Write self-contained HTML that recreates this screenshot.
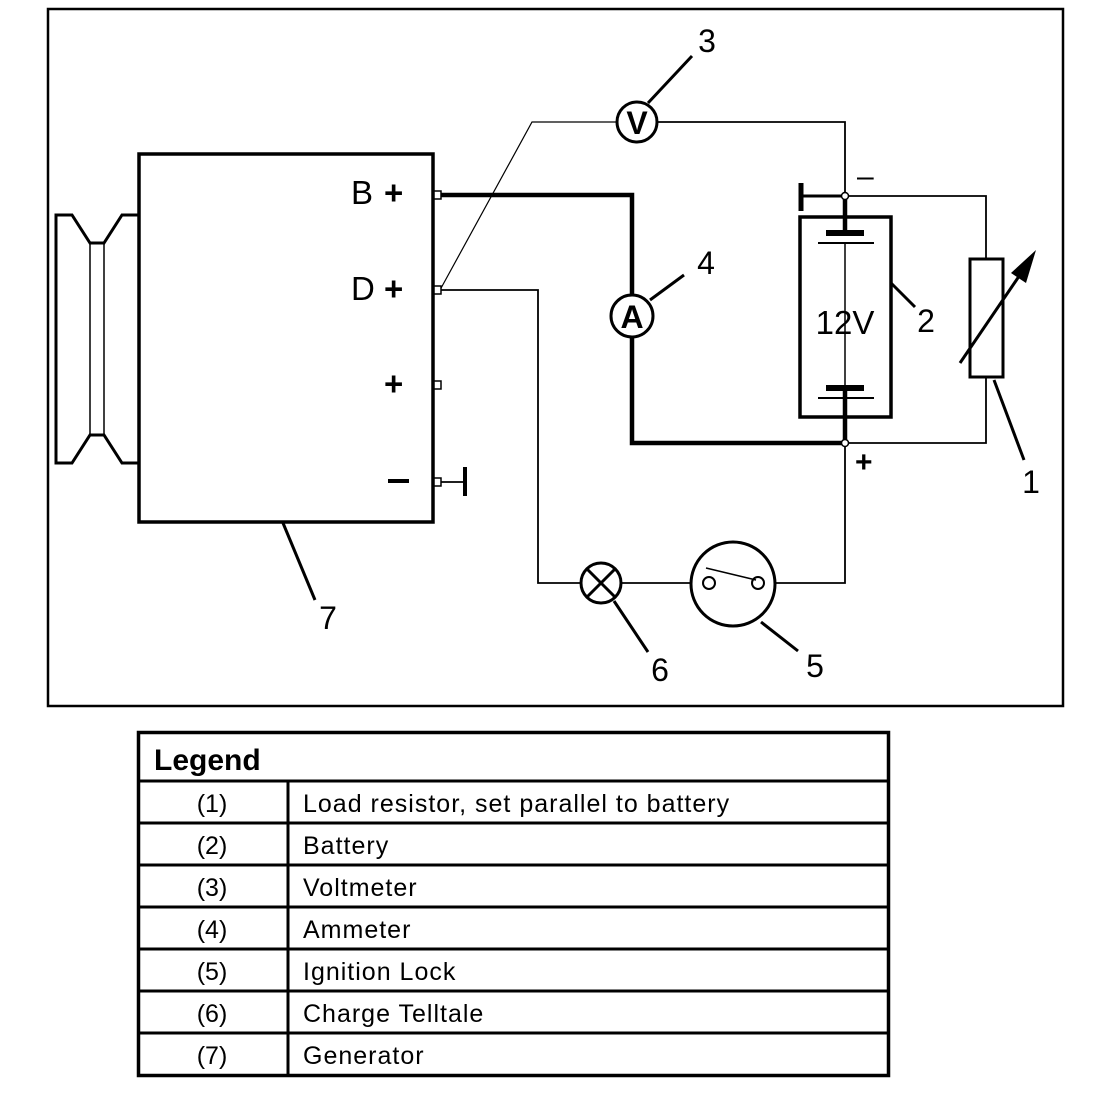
<!DOCTYPE html>
<html><head><style>html,body{margin:0;padding:0;background:#fff}svg{display:block}</style></head><body>
<svg width="1120" height="1096" viewBox="0 0 1120 1096" xmlns="http://www.w3.org/2000/svg" font-family="Liberation Sans, Arial, sans-serif">
<rect x="0" y="0" width="1120" height="1096" fill="#fff"/>
<rect x="48" y="9" width="1015" height="697" fill="none" stroke="#000" stroke-width="2.5"/>
<!-- pulley -->
<g fill="none" stroke="#000" stroke-width="3" stroke-linejoin="miter">
<path d="M138,215 L122,215 L104,243 L90,243 L72,215 L56,215 L56,463 L72,463 L90,435 L104,435 L122,463 L138,463"/>
</g>
<g stroke="#000" stroke-width="1.5"><line x1="90" y1="243" x2="90" y2="435"/><line x1="104" y1="243" x2="104" y2="435"/></g>
<!-- generator -->
<rect x="139" y="154" width="294" height="368" fill="none" stroke="#000" stroke-width="3.5"/>
<g font-size="33" fill="#000">
<text x="351" y="204">B</text><text x="384" y="204" font-weight="bold">+</text>
<text x="351" y="300">D</text><text x="384" y="300" font-weight="bold">+</text>
<text x="384" y="395" font-weight="bold">+</text>
<rect x="388" y="479" width="21" height="4"/>
</g>
<!-- wires -->
<g fill="none" stroke="#000">
<path d="M440,195 L632,195 L632,295" stroke-width="4.5"/>
<path d="M632,337 L632,443 L845,443" stroke-width="4.5"/>
<path d="M440,290 L538,290 L538,583 L580,583" stroke-width="1.8"/>
<path d="M622,583 L690,583" stroke-width="1.8"/>
<path d="M776,583 L845,583 L845,443" stroke-width="1.8"/>
<path d="M440,290 L532,122 L616,122" stroke-width="1.2"/>
<path d="M658,122 L845,122 L845,196" stroke-width="1.8"/>
<path d="M845,196 L986,196 L986,259" stroke-width="1.8"/>
<path d="M986,377 L986,443 L845,443" stroke-width="1.8"/>
<path d="M845,196 L845,236 M845,390 L845,443" stroke-width="4.5"/>
<path d="M845,243 L845,388" stroke-width="1.5"/>
<path d="M800,196 L845,196" stroke-width="3"/>
<path d="M801,183 L801,211" stroke-width="5"/>
<path d="M440,482 L465,482" stroke-width="1.8"/>
<path d="M465,467 L465,496" stroke-width="4"/>
</g>
<!-- terminals -->
<g fill="#fff" stroke="#000" stroke-width="1.5">
<rect x="434" y="191" width="7" height="8"/><rect x="434" y="286" width="7" height="8"/>
<rect x="434" y="381" width="7" height="8"/><rect x="434" y="478" width="7" height="8"/>
<circle cx="845" cy="196" r="3.5"/><circle cx="845" cy="443" r="3.5"/>
</g>
<!-- battery -->
<rect x="800" y="217" width="91" height="200" fill="none" stroke="#000" stroke-width="3.5"/>
<g fill="#000"><rect x="826" y="230" width="38" height="6"/><rect x="818" y="242" width="56" height="2"/>
<rect x="826" y="385" width="38" height="6"/><rect x="818" y="397" width="56" height="2"/></g>
<text x="845" y="334" font-size="33" text-anchor="middle">12V</text>
<text x="857" y="186" font-size="30">–</text>
<text x="855" y="472" font-size="30" font-weight="bold">+</text>
<!-- resistor -->
<rect x="970" y="259" width="33" height="118" fill="#fff" stroke="#000" stroke-width="3"/>
<line x1="960" y1="363" x2="1026" y2="266" stroke="#000" stroke-width="3"/>
<polygon points="1036,250 1011,273 1026,283" fill="#000"/>
<!-- meters -->
<g fill="#fff" stroke="#000" stroke-width="3">
<circle cx="637" cy="122" r="20"/><circle cx="632" cy="316" r="21"/>
<circle cx="601" cy="583" r="20"/><ellipse cx="733" cy="584" rx="42" ry="42"/>
</g>
<text x="637" y="134" font-size="32" font-weight="bold" text-anchor="middle">V</text>
<text x="632" y="328" font-size="32" font-weight="bold" text-anchor="middle">A</text>
<g stroke="#000" stroke-width="3"><line x1="587" y1="569" x2="615" y2="597"/><line x1="615" y1="569" x2="587" y2="597"/></g>
<g fill="#fff" stroke="#000" stroke-width="2"><circle cx="709" cy="583" r="6"/><circle cx="758" cy="583" r="6"/></g>
<line x1="706" y1="568" x2="756" y2="580" stroke="#000" stroke-width="1.5"/>
<!-- leader lines -->
<g stroke="#000" stroke-width="3">
<line x1="648" y1="103" x2="692" y2="56"/>
<line x1="650" y1="300" x2="684" y2="275"/>
<line x1="891" y1="283" x2="915" y2="307"/>
<line x1="994" y1="380" x2="1024" y2="460"/>
<line x1="283" y1="523" x2="315" y2="600"/>
<line x1="614" y1="601" x2="648" y2="652"/>
<line x1="761" y1="622" x2="798" y2="651"/>
</g>
<g font-size="32" fill="#000" text-anchor="middle">
<text x="707" y="52">3</text><text x="706" y="274">4</text><text x="926" y="332">2</text>
<text x="1031" y="493">1</text><text x="328" y="629">7</text><text x="660" y="681">6</text><text x="815" y="677">5</text>
</g>
<!-- legend -->
<rect x="138.5" y="732.5" width="750" height="343" fill="none" stroke="#000" stroke-width="3.5"/>
<g stroke="#000" stroke-width="3">
<line x1="138" y1="781" x2="889" y2="781"/><line x1="138" y1="823" x2="889" y2="823"/>
<line x1="138" y1="865" x2="889" y2="865"/><line x1="138" y1="907" x2="889" y2="907"/>
<line x1="138" y1="949" x2="889" y2="949"/><line x1="138" y1="991" x2="889" y2="991"/>
<line x1="138" y1="1033" x2="889" y2="1033"/>
<line x1="288" y1="781" x2="288" y2="1076"/>
</g>
<text x="154" y="770" font-size="30" font-weight="bold">Legend</text>
<g font-size="25" fill="#000">
<g text-anchor="middle">
<text x="212" y="812">(1)</text><text x="212" y="854">(2)</text><text x="212" y="896">(3)</text>
<text x="212" y="938">(4)</text><text x="212" y="980">(5)</text><text x="212" y="1022">(6)</text><text x="212" y="1064">(7)</text>
</g>
<g letter-spacing="1">
<text x="303" y="812">Load resistor, set parallel to battery</text>
<text x="303" y="854">Battery</text><text x="303" y="896">Voltmeter</text><text x="303" y="938">Ammeter</text>
<text x="303" y="980">Ignition Lock</text><text x="303" y="1022">Charge Telltale</text><text x="303" y="1064">Generator</text>
</g>
</g>
</svg>
</body></html>
